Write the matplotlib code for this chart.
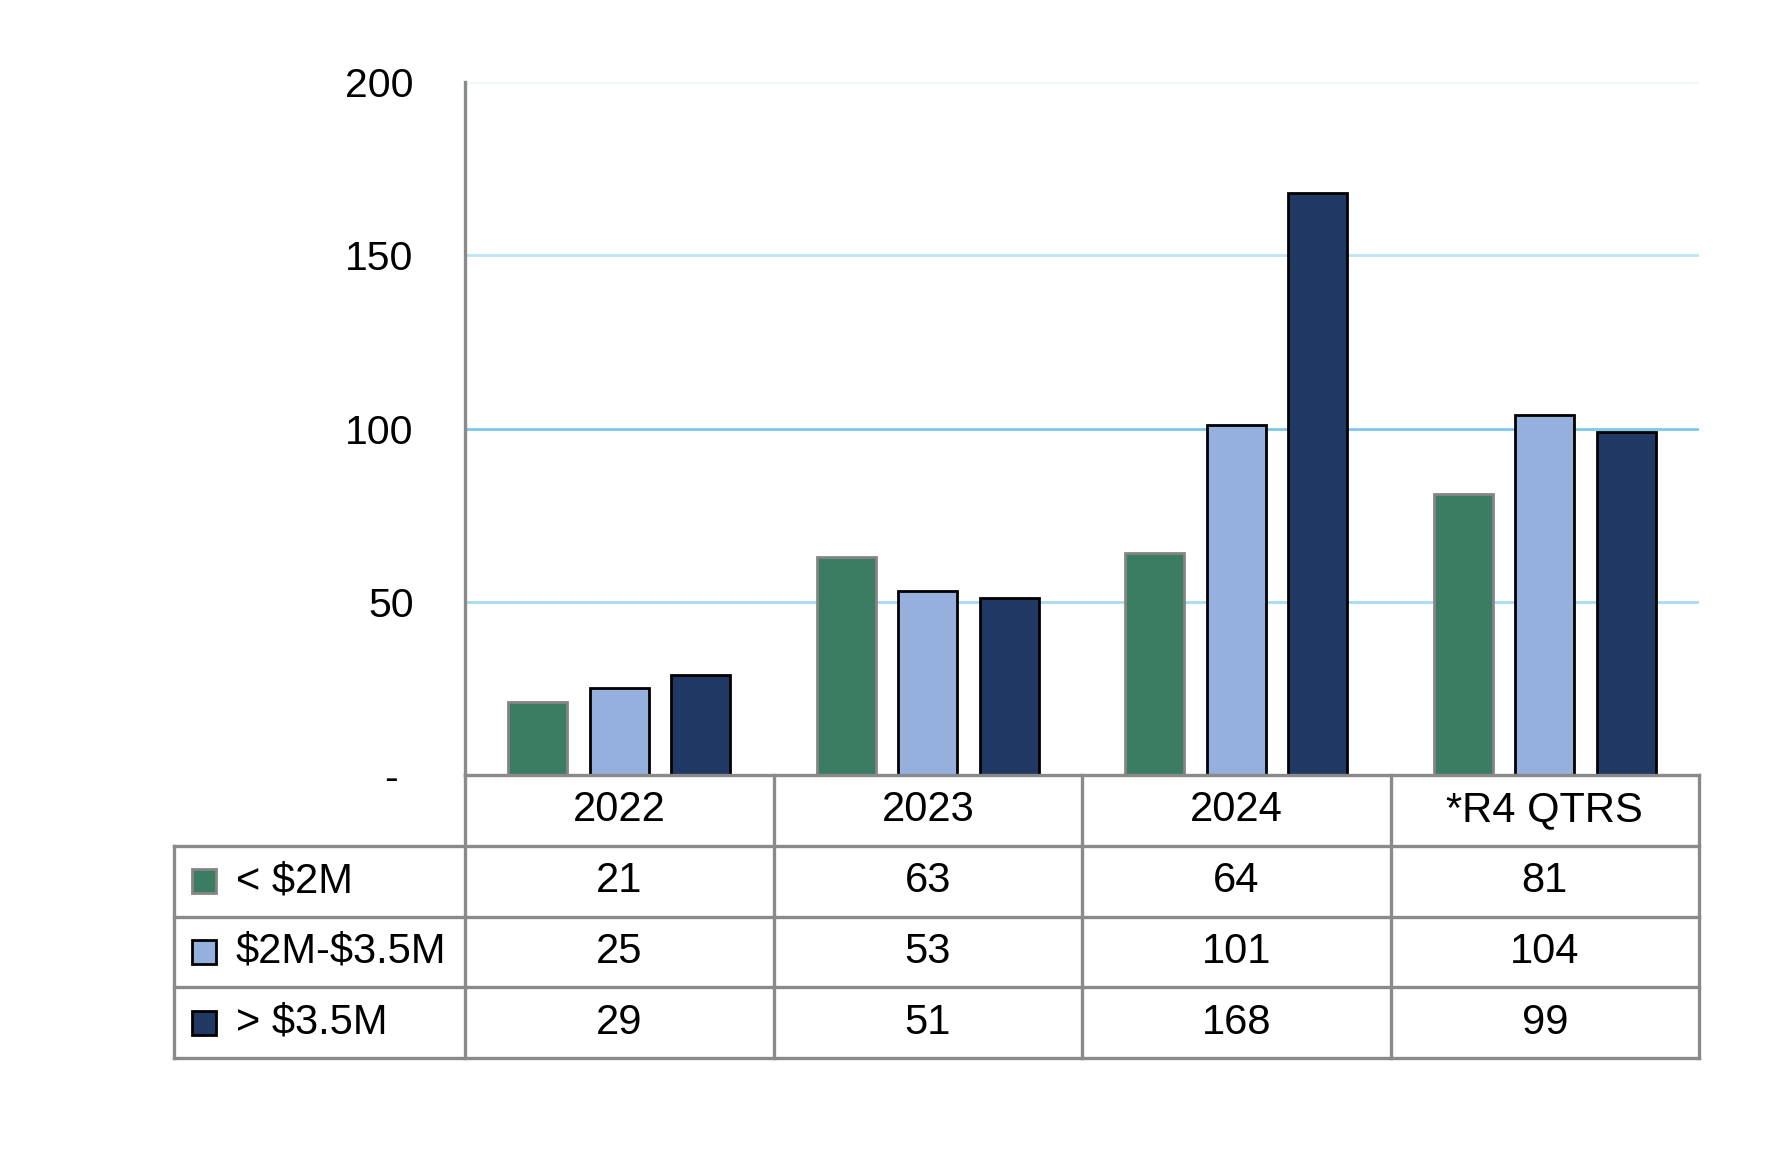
import matplotlib
matplotlib.use("Agg")
import matplotlib.pyplot as plt
import matplotlib.patches as mpatches
import matplotlib.transforms as mtransforms
import numpy as np

# Données
categories = ["2022", "2023", "2024", "*R4 QTRS"]
series_names = ["< $2M", "$2M-$3.5M", "> $3.5M"]
under_2m = [21, 63, 64, 81]
mid_2m_35m = [25, 53, 101, 104]
over_35m = [29, 51, 168, 99]
series_values = [under_2m, mid_2m_35m, over_35m]
y_ticks = [0, 50, 100, 150, 200]
y_tick_labels = ["-", "50", "100", "150", "200"]

face_colors = ["#3b7d62", "#95b0dd", "#203864"]
edge_colors = ["#858585", "#000000", "#000000"]
grid_colors = ["#ffffff", "#a8daf0", "#7fc7ea", "#bde4f5", "#eef7fc"]
line_gray = "#8a8a8a"

plt.rcParams["font.family"] = ["Liberation Sans", "DejaVu Sans"]

W, H = 1787, 1155
fig = plt.figure(figsize=(W / 100, H / 100), dpi=100)
ax_l, ax_r, ax_t, ax_b = 465, 1699, 82, 775
ax = fig.add_axes([ax_l / W, 1 - ax_b / H, (ax_r - ax_l) / W, (ax_b - ax_t) / H])
ax_w_px = ax_r - ax_l
ax_h_px = ax_b - ax_t

x = np.arange(len(categories))
bar_w = 0.191
offset = 0.264
for i, vals in enumerate(series_values):
    ax.bar(x + (i - 1) * offset, vals, width=bar_w, color=face_colors[i],
           edgecolor=edge_colors[i], linewidth=2.0, zorder=3)

for t, c in zip(y_ticks, grid_colors):
    if t > 0:
        ax.axhline(t, color=c, linewidth=2.0, zorder=1)

ax.set_xlim(-0.5, len(categories) - 0.5)
ax.set_ylim(0, 200)
ax.set_xticks([])
ax.set_yticks(y_ticks)
ax.set_yticklabels(y_tick_labels, fontsize=29.5)
ax.tick_params(axis="y", length=0, pad=37)
# le tiret du zéro est décalé vers la gauche
lab0 = ax.get_yticklabels()[0]
lab0.set_transform(lab0.get_transform() +
                   mtransforms.ScaledTranslation(-16 / 100, 0, fig.dpi_scale_trans))

for side in ["top", "right", "bottom"]:
    ax.spines[side].set_visible(False)
ax.spines["left"].set_color(line_gray)
ax.spines["left"].set_linewidth(2.4)

# Tableau de données sous le graphique (coordonnées axes)
tab_left = (174 - ax_l) / ax_w_px
tab_bottom = (ax_b - 1058) / ax_h_px
n_rows = len(series_names) + 1
row_h = -tab_bottom / n_rows
col_w = 1.0 / len(categories)
lkw = dict(color=line_gray, linewidth=2.4, transform=ax.transAxes,
           clip_on=False, zorder=4, solid_capstyle="projecting")

# lignes horizontales
ax.plot([0, 1], [0, 0], **lkw)
for r in range(1, n_rows + 1):
    ax.plot([tab_left, 1], [-r * row_h, -r * row_h], **lkw)
# lignes verticales
ax.plot([tab_left, tab_left], [-row_h, tab_bottom], **lkw)
for j in range(len(categories) + 1):
    ax.plot([j * col_w, j * col_w], [0, tab_bottom], **lkw)

tkw = dict(fontsize=30, ha="center", va="center", transform=ax.transAxes,
           parse_math=False, clip_on=False)
for j, cat in enumerate(categories):
    ax.text((j + 0.5) * col_w, -0.5 * row_h, cat, **tkw)
sw = 24
for i, (name, vals) in enumerate(zip(series_names, series_values)):
    yc = -(i + 1.5) * row_h
    ax.text((236 - ax_l) / ax_w_px, yc, name, fontsize=30, ha="left", va="center",
            transform=ax.transAxes, parse_math=False, clip_on=False)
    for j, v in enumerate(vals):
        ax.text((j + 0.5) * col_w, yc, str(v), **tkw)
    rect = mpatches.Rectangle(((192 - ax_l) / ax_w_px, yc - sw / 2 / ax_h_px),
                              sw / ax_w_px, sw / ax_h_px, transform=ax.transAxes,
                              facecolor=face_colors[i], edgecolor=edge_colors[i],
                              linewidth=2.0, clip_on=False, zorder=5)
    ax.add_patch(rect)

fig.savefig("out.png", dpi=100)
